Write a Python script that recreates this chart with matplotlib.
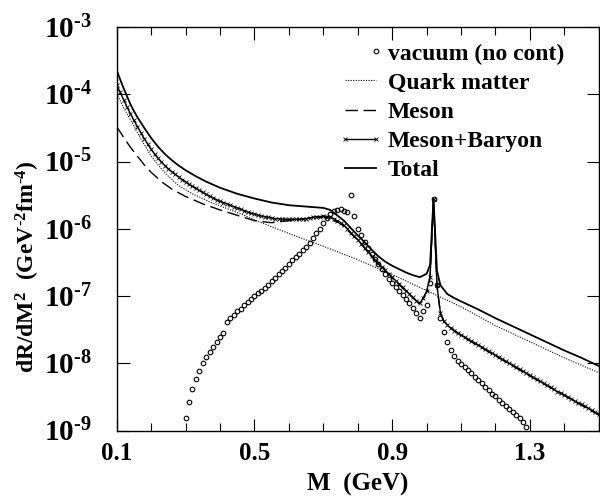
import numpy as np
import matplotlib
matplotlib.use("Agg")
import matplotlib.pyplot as plt
from matplotlib.ticker import FixedLocator, MultipleLocator, FuncFormatter, NullLocator

plt.rcParams['font.family'] = ['Liberation Serif', 'DejaVu Serif']
plt.rcParams['font.weight'] = 'bold'
plt.rcParams['mathtext.fontset'] = 'custom'
plt.rcParams['mathtext.rm'] = 'Liberation Serif:bold'
plt.rcParams['mathtext.it'] = 'Liberation Serif:bold:italic'
plt.rcParams['mathtext.bf'] = 'Liberation Serif:bold'

# ---------------- data (log10 of dR/dM^2) ----------------
# vacuum (no cont): M = 0.30 ... 1.29 step 0.01
vac_m_start, vac_m_step = 0.30, 0.01
vac_log = [-8.81, -8.57, -8.39, -8.24, -8.11, -8.00, -7.91, -7.83, -7.76, -7.68,
           -7.61, -7.55, -7.39, -7.33, -7.28, -7.23, -7.19, -7.14, -7.09, -7.05,
           -7.00, -6.96, -6.92, -6.88, -6.83, -6.78, -6.73, -6.68, -6.63, -6.58,
           -6.52, -6.47, -6.42, -6.37, -6.32, -6.27, -6.21, -6.14, -6.07, -6.00,
           -5.92, -5.84, -5.78, -5.74, -5.72, -5.71, -5.73, -5.75, -5.50, -5.81,
           -6.00, -6.10, -6.20, -6.29, -6.37, -6.45, -6.53, -6.60, -6.67, -6.74,
           -6.80, -6.86, -6.92, -6.98, -7.04, -7.11, -7.18, -7.25, -7.32, -7.23,
           -7.14, -6.80, -5.56, -6.84, -7.33, -7.53, -7.68, -7.80, -7.89, -7.96,
           -8.01, -8.06, -8.10, -8.15, -8.20, -8.25, -8.30, -8.35, -8.40, -8.45,
           -8.49, -8.54, -8.59, -8.63, -8.68, -8.72, -8.77, -8.82, -8.88, -8.95]

# Meson+Baryon: M = 0.10 ... 1.50 step 0.01
mb_m_start, mb_m_step = 0.10, 0.01
mb_log = [-3.86, -3.97, -4.08, -4.19, -4.29, -4.39, -4.48, -4.57, -4.66, -4.74,
          -4.82, -4.89, -4.95, -5.01, -5.06, -5.11, -5.15, -5.19, -5.23, -5.27,
          -5.30, -5.34, -5.37, -5.40, -5.43, -5.46, -5.49, -5.52, -5.54, -5.57,
          -5.59, -5.61, -5.63, -5.65, -5.67, -5.69, -5.71, -5.73, -5.75, -5.77,
          -5.78, -5.80, -5.81, -5.82, -5.83, -5.84, -5.85, -5.85, -5.86, -5.86,
          -5.86, -5.86, -5.86, -5.86, -5.85, -5.85, -5.84, -5.83, -5.82, -5.82,
          -5.81, -5.82, -5.83, -5.85, -5.88, -5.91, -5.95, -6.00, -6.06, -6.11,
          -6.16, -6.22, -6.28, -6.34, -6.40, -6.46, -6.51, -6.57, -6.62, -6.67,
          -6.72, -6.77, -6.82, -6.87, -6.92, -6.97, -7.02, -7.07, -7.11, -7.03,
          -6.93, -6.72, -5.56, -6.84, -7.25, -7.37, -7.43, -7.48, -7.52, -7.55,
          -7.58, -7.61, -7.64, -7.67, -7.70, -7.73, -7.76, -7.79, -7.82, -7.85,
          -7.88, -7.91, -7.94, -7.97, -8.00, -8.03, -8.06, -8.09, -8.12, -8.15,
          -8.18, -8.21, -8.24, -8.27, -8.30, -8.33, -8.36, -8.39, -8.42, -8.44,
          -8.47, -8.50, -8.53, -8.56, -8.59, -8.61, -8.64, -8.67, -8.70, -8.73,
          -8.76]

# Meson
meson_m = [0.10, 0.12, 0.14, 0.16, 0.18, 0.20, 0.23, 0.26, 0.30, 0.35, 0.40, 0.45,
           0.50, 0.55, 0.60, 0.65, 0.70, 0.75, 0.80, 0.85, 0.90, 0.95, 0.98, 0.99,
           1.00, 1.01, 1.02, 1.03, 1.04, 1.05, 1.10, 1.20, 1.30, 1.40, 1.50]
meson_log = [-4.48, -4.64, -4.79, -4.92, -5.05, -5.16, -5.30, -5.41, -5.52, -5.63,
             -5.72, -5.80, -5.88, -5.91, -5.88, -5.85, -5.82, -5.92, -6.17, -6.47,
             -6.73, -6.98, -7.12, -7.04, -6.94, -6.73, -5.56, -6.85, -7.26, -7.38,
             -7.59, -7.89, -8.19, -8.48, -8.77]

# Quark matter
qm_m = [0.10, 0.12, 0.14, 0.16, 0.18, 0.20, 0.22, 0.25, 0.28, 0.32, 0.37, 0.42,
        0.47, 0.52, 0.60, 0.70, 0.80, 0.90, 1.00, 1.10, 1.20, 1.30, 1.40, 1.50]
qm_log = [-3.99, -4.20, -4.38, -4.57, -4.75, -4.92, -5.05, -5.22, -5.36, -5.48,
          -5.60, -5.70, -5.80, -5.91, -6.07, -6.26, -6.46, -6.68, -6.92, -7.16,
          -7.44, -7.68, -7.92, -8.14]

# Total
tot_m = [0.10, 0.11, 0.12, 0.13, 0.14, 0.15, 0.16, 0.17, 0.18, 0.20, 0.22, 0.24,
         0.26, 0.28, 0.30, 0.33, 0.36, 0.40, 0.45, 0.50, 0.55, 0.60, 0.65, 0.70,
         0.72, 0.74, 0.76, 0.78, 0.80, 0.82, 0.84, 0.86, 0.88, 0.90, 0.92, 0.94,
         0.96, 0.98, 1.00, 1.01, 1.02, 1.03, 1.04, 1.06, 1.08, 1.10, 1.15, 1.20,
         1.25, 1.30, 1.35, 1.40, 1.45, 1.50]
tot_log = [-3.64, -3.78, -3.91, -4.03, -4.15, -4.25, -4.34, -4.42, -4.50, -4.65,
           -4.78, -4.89, -4.98, -5.06, -5.13, -5.22, -5.30, -5.39, -5.48, -5.55,
           -5.61, -5.65, -5.67, -5.69, -5.72, -5.80, -5.88, -5.99, -6.10, -6.20,
           -6.31, -6.41, -6.49, -6.55, -6.60, -6.65, -6.69, -6.72, -6.67, -6.54,
           -5.56, -6.62, -6.84, -6.97, -7.03, -7.08, -7.20, -7.33, -7.45, -7.57,
           -7.69, -7.81, -7.92, -8.04]

x_ticks = [0.1, 0.5, 0.9, 1.3]
x_tick_labels = ["0.1", "0.5", "0.9", "1.3"]
y_exponents = [-9, -8, -7, -6, -5, -4, -3]

# ---------------- plotting ----------------
vac_m = vac_m_start + vac_m_step * np.arange(len(vac_log))
mb_m = mb_m_start + mb_m_step * np.arange(len(mb_log))

fig = plt.figure(figsize=(6.0, 4.98), dpi=100)
ax = fig.add_axes([0.1945, 0.1355, 0.8035, 0.8103])

ax.plot(vac_m, 10.0 ** np.array(vac_log), linestyle='none', marker='o', ms=3.3,
        mfc='none', mec='black', mew=0.8, label='vacuum (no cont)')
ax.plot(qm_m, 10.0 ** np.array(qm_log), color='black', lw=0.8,
        dashes=(1.0, 1.3), label='Quark matter')
ax.plot(meson_m, 10.0 ** np.array(meson_log), color='black', lw=1.0,
        dashes=(9, 4), label='Meson')
ax.plot(mb_m, 10.0 ** np.array(mb_log), color='black', lw=1.0, marker='x',
        ms=3.5, mew=0.6, label='Meson+Baryon')
ax.plot(tot_m, 10.0 ** np.array(tot_log), color='black', lw=1.3, label='Total')

ax.set_yscale('log')
ax.set_xlim(0.1, 1.5)
ax.set_ylim(1e-9, 1e-3)

ax.xaxis.set_major_locator(FixedLocator(x_ticks))
ax.xaxis.set_major_formatter(FuncFormatter(lambda v, p: x_tick_labels[x_ticks.index(round(v, 2))] if round(v, 2) in x_ticks else ""))
ax.xaxis.set_minor_locator(MultipleLocator(0.1))
ax.yaxis.set_major_locator(FixedLocator([10.0 ** e for e in y_exponents]))
ax.yaxis.set_minor_locator(NullLocator())
ax.yaxis.set_major_formatter(FuncFormatter(lambda v, p: r'$10^{\text{-%d}}$' % abs(int(round(np.log10(v))))))

ax.tick_params(which='both', direction='in', top=True, right=True, width=0.8)
ax.tick_params(which='major', length=9)
ax.tick_params(which='minor', length=6)
ax.tick_params(axis='x', labelsize=18, pad=8)
ax.tick_params(axis='y', labelsize=21, pad=18)
for s in ax.spines.values():
    s.set_linewidth(1.0)

ax.set_xlabel('M  (GeV)', fontsize=18, fontweight='bold', labelpad=6)
ax.set_ylabel(r'dR/dM$^{2}$  (GeV$^{\text{-2}}$fm$^{\text{-4}}$)', fontsize=17, fontweight='bold')
ax.yaxis.set_label_coords(-0.155, 0.405)

leg = ax.legend(loc='upper left', bbox_to_anchor=(0.474, 0.96), frameon=False,
                fontsize=17, handlelength=1.3, handletextpad=0.5, labelspacing=0.32,
                numpoints=1, borderaxespad=0.0, borderpad=0.0, markerfirst=True)
h0 = leg.legend_handles[0]
if hasattr(h0, 'set_markevery') and len(h0.get_xdata()) == 3:
    h0.set_markevery([2])
h = leg.legend_handles[3]
if hasattr(h, 'set_markevery'):
    h.set_markevery([0, -1])

fig.savefig('out.png', dpi=100)
